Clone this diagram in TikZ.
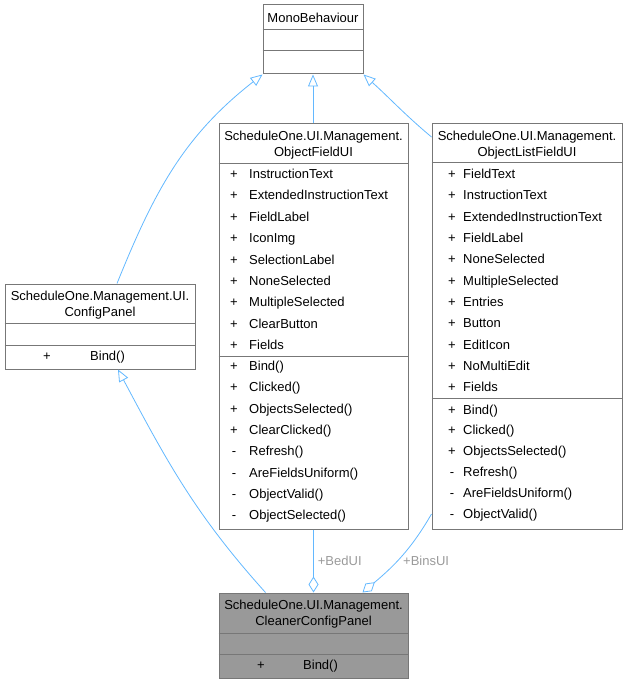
\documentclass[tikz,border=0pt]{standalone}
\usepackage{fontspec}
\setmainfont{Liberation Sans}
\usetikzlibrary{positioning,arrows.meta}
\definecolor{boxgray}{HTML}{777777}
\definecolor{edgeblue}{HTML}{63B8FF}
\definecolor{labelgray}{HTML}{9A9A9A}
\definecolor{focusgray}{HTML}{999999}

\begin{document}
\begin{tikzpicture}[x=1pt,y=1pt]
    \tikzstyle{every node}=[inner sep=0,font=\fontsize{13}{16}\selectfont]
    \tikzstyle{box}=[draw=boxgray,fill=white,line width=1,rectangle]
    \tikzstyle{focus}=[box,fill=focusgray]
    \tikzstyle{divider}=[draw=boxgray,line width=1]
    \tikzstyle{title}=[align=center]
    \tikzstyle{member}=[anchor=base west,yshift=-4.6]
    \tikzstyle{vis}=[anchor=base,yshift=-4.6]
    \tikzstyle{inherit}=[draw=edgeblue,line width=0.8,-{Triangle[open,length=12,width=10]}]
    \tikzstyle{aggr}=[draw=edgeblue,line width=0.8,-{Diamond[open,length=16,width=10]}]
    \tikzstyle{role}=[text=labelgray]

    \useasboundingbox (0,0) rectangle (627,-684);

    % MonoBehaviour
    \node[box,minimum width=100,minimum height=69] (mono) at (313,-39.5) {};
    \node[title] (monot) at (313,-18) {MonoBehaviour};
    \draw[divider] (mono.west |- 0,-29.5) -- (mono.east |- 0,-29.5);
    \draw[divider] (mono.west |- 0,-51) -- (mono.east |- 0,-51);

    % ObjectFieldUI
    \node[box,minimum width=189,minimum height=405] (ofu) at (313.5,-326.5) {};
    \node[title] (ofut) at (313.5,-145) {ScheduleOne.UI.Management.\\ObjectFieldUI};
    \draw[divider] (ofu.west |- 0,-164) -- (ofu.east |- 0,-164);
    \draw[divider] (ofu.west |- 0,-356) -- (ofu.east |- 0,-356);
    \foreach \name [count=\i from 0] in {InstructionText,ExtendedInstructionText,FieldLabel,IconImg,SelectionLabel,NoneSelected,MultipleSelected,ClearButton,Fields} {
        \node[vis] (ofuav\i) at (234,{-174-21.35*\i}) {+};
        \node[member] (ofua\i) at (249,{-174-21.35*\i}) {\name};
    }
    \foreach \v/\name [count=\i from 0] in {+/Bind(),+/Clicked(),+/ObjectsSelected(),+/ClearClicked(),-/Refresh(),-/AreFieldsUniform(),-/ObjectValid(),-/ObjectSelected()} {
        \node[vis] (ofumv\i) at (234,{-366-21.3*\i}) {\v};
        \node[member] (ofum\i) at (249,{-366-21.3*\i}) {\name};
    }

    % ObjectListFieldUI
    \node[box,minimum width=190,minimum height=406] (olu) at (527,-326.5) {};
    \node[title] (olut) at (527,-145) {ScheduleOne.UI.Management.\\ObjectListFieldUI};
    \draw[divider] (olu.west |- 0,-163) -- (olu.east |- 0,-163);
    \draw[divider] (olu.west |- 0,-398) -- (olu.east |- 0,-398);
    \foreach \name [count=\i from 0] in {FieldText,InstructionText,ExtendedInstructionText,FieldLabel,NoneSelected,MultipleSelected,Entries,Button,EditIcon,NoMultiEdit,Fields} {
        \node[vis] (oluav\i) at (452,{-174-21.3*\i}) {+};
        \node[member] (olua\i) at (463,{-174-21.3*\i}) {\name};
    }
    \foreach \v/\name [count=\i from 0] in {+/Bind(),+/Clicked(),+/ObjectsSelected(),-/Refresh(),-/AreFieldsUniform(),-/ObjectValid()} {
        \node[vis] (olumv\i) at (452,{-409.5-20.8*\i}) {\v};
        \node[member] (olum\i) at (463,{-409.5-20.8*\i}) {\name};
    }

    % ConfigPanel
    \node[box,minimum width=190,minimum height=85] (cfg) at (100,-326.5) {};
    \node[title] (cfgt) at (100,-305) {ScheduleOne.Management.UI.\\ConfigPanel};
    \draw[divider] (cfg.west |- 0,-323.5) -- (cfg.east |- 0,-323.5);
    \draw[divider] (cfg.west |- 0,-345) -- (cfg.east |- 0,-345);
    \node[vis] (cfgmv0) at (47,-356) {+};
    \node[member] (cfgm0) at (90,-356) {Bind()};

    % CleanerConfigPanel
    \node[focus,minimum width=189,minimum height=85] (ccp) at (313.5,-635.5) {};
    \node[title] (ccpt) at (313.5,-614) {ScheduleOne.UI.Management.\\CleanerConfigPanel};
    \draw[divider] (ccp.west |- 0,-633.5) -- (ccp.east |- 0,-633.5);
    \draw[divider] (ccp.west |- 0,-654.5) -- (ccp.east |- 0,-654.5);
    \node[vis] (ccpmv0) at (261,-665) {+};
    \node[member] (ccpm0) at (303,-665) {Bind()};

    % inheritance
    \draw[inherit] ([xshift=17]cfg.north) to[out=68,in=218] (mono.south west);
    \draw[inherit] (ofu.north -| mono.south) -- (mono.south);
    \draw[inherit] ([yshift=-14]olu.north west) to[out=140,in=-42] (mono.south east);
    \draw[inherit] ([xshift=-48]ccp.north) to[out=132,in=-62] ([xshift=18]cfg.south);

    % members
    \draw[aggr] (ofu.south -| ccp.north) -- (ccp.north) node[role,pos=0.5,anchor=west,xshift=4] (bed) {+BedUI};
    \draw[aggr] ([yshift=16]olu.south west) to[out=-120,in=40] ([xshift=49]ccp.north);
    \node[role,anchor=west] (bins) at (403,-561) {+BinsUI};
\end{tikzpicture}
\end{document}
